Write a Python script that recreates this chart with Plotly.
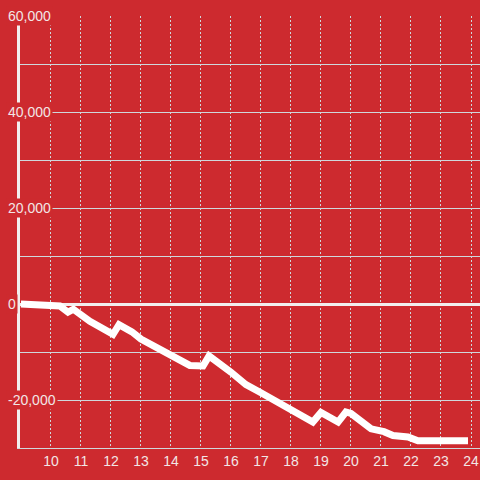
import plotly.graph_objects as go

BG = "#cd2a2f"
TXT = "#f2e6e6"
GRID = "#cfd8dc"

# series
x_vals = [9.0, 10.0, 10.3, 10.57, 10.75, 11.3, 12.07, 12.27, 12.7, 13.0, 13.63, 14.0,
          14.63, 15.07, 15.27, 16.0, 16.5, 17.0, 17.5, 18.0, 18.3, 18.73, 19.0, 19.57,
          19.83, 20.0, 20.67, 21.1, 21.4, 21.9, 22.23, 23.9]
y_vals = [0, -200, -400, -1700, -1100, -3600, -6300, -4300, -5800, -7300, -9400, -10700,
          -12800, -12900, -10800, -14200, -16800, -18500, -20300, -21800, -22900, -24600,
          -22600, -24600, -22500, -22800, -26000, -26600, -27400, -27700, -28500, -28500]

y_labels = [-20000, 0, 20000, 40000, 60000]
x_ticks = list(range(10, 25))

fig = go.Figure()
fig.add_scatter(x=x_vals, y=y_vals, mode="lines",
                line=dict(color="#ffffff", width=7), hoverinfo="skip")

# y tick labels sit on top of the axis line with a background box
for v in y_labels:
    fig.add_annotation(x=-0.03, xref="paper", y=v, yref="y", text=f"{v:,}",
                       showarrow=False, xanchor="left", yanchor="middle",
                       bgcolor=BG, borderpad=1,
                       font=dict(family="Liberation Sans, Arial", size=14, color=TXT))

fig.update_layout(
    width=480, height=480,
    paper_bgcolor=BG, plot_bgcolor=BG,
    margin=dict(l=20, r=0, t=16, b=32),
    showlegend=False,
    font=dict(family="Liberation Sans, Arial", size=14, color=TXT),
    xaxis=dict(range=[8.97, 24.3], tickvals=x_ticks, showgrid=True, automargin=False,
               gridcolor=GRID, griddash="2px,2px", gridwidth=1,
               showline=True, linecolor=GRID, linewidth=1,
               zeroline=False, ticks="", tickfont=dict(size=14, color=TXT)),
    yaxis=dict(range=[-30000, 60000], dtick=10000, showticklabels=False, automargin=False,
               showgrid=True, gridcolor=GRID, gridwidth=1,
               showline=True, linecolor="#f2eeee", linewidth=3,
               zeroline=True, zerolinecolor="#f2eeee", zerolinewidth=3, ticks=""),
)

# drop the default page margin so the chart fills the window
fig.write_html("out.html", config={"displayModeBar": False},
               post_script="document.body.style.margin='0';")
